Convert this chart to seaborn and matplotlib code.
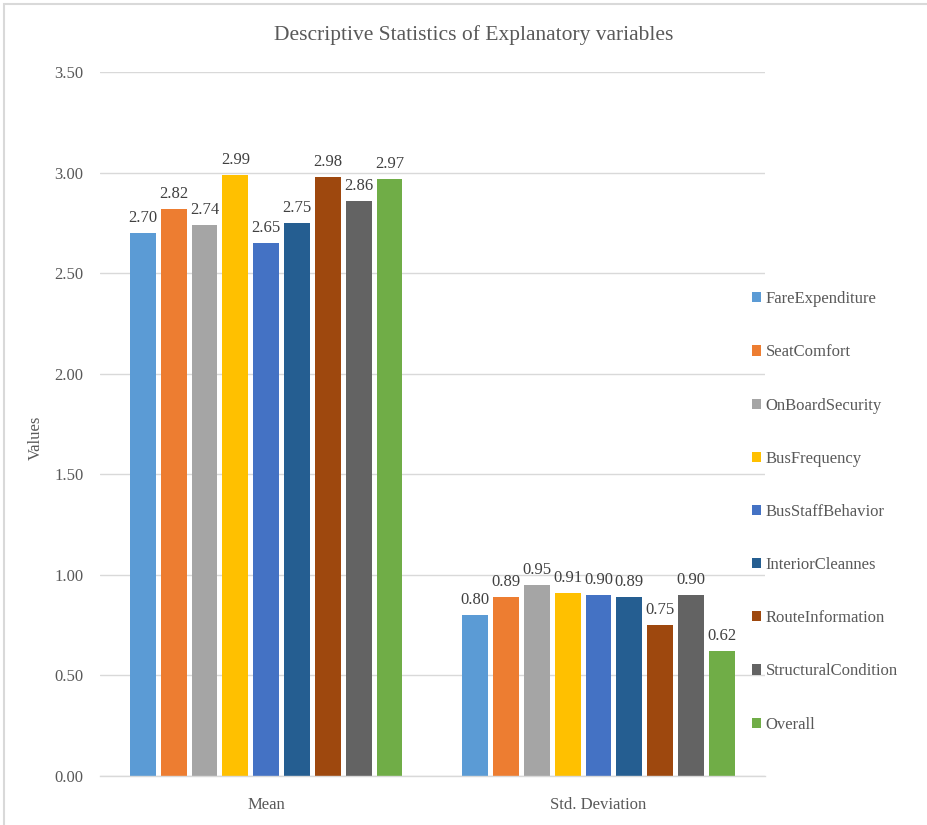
import matplotlib
matplotlib.use("Agg")
import matplotlib.pyplot as plt
from matplotlib.patches import Rectangle
import pandas as pd
import seaborn as sns

# Explanatory variables and their summary statistics
variables = ["FareExpenditure", "SeatComfort", "OnBoardSecurity", "BusFrequency",
             "BusStaffBehavior", "InteriorCleannes", "RouteInformation",
             "StructuralCondition", "Overall"]
stats = ["Mean", "Std. Deviation"]
mean_values = [2.70, 2.82, 2.74, 2.99, 2.65, 2.75, 2.98, 2.86, 2.97]
std_values = [0.80, 0.89, 0.95, 0.91, 0.90, 0.89, 0.75, 0.90, 0.62]
colors = ["#5B9BD5", "#ED7D31", "#A5A5A5", "#FFC000", "#4472C4",
          "#255E91", "#9E480E", "#636363", "#70AD47"]
y_ticks = [0.0, 0.5, 1.0, 1.5, 2.0, 2.5, 3.0, 3.5]

df = pd.DataFrame({
    "Statistic": [stats[0]] * len(variables) + [stats[1]] * len(variables),
    "Variable": variables * 2,
    "Value": mean_values + std_values,
})

sns.set_theme(style="white")
plt.rcParams["font.family"] = ["Liberation Serif", "DejaVu Serif"]
text_color = "#595959"
grid_color = "#D9D9D9"
fs = 12

fig = plt.figure(figsize=(9.28, 8.25), dpi=100)
ax = fig.add_axes([0.1078, 0.0594, 0.7162, 0.8533])

sns.barplot(data=df, x="Statistic", y="Value", hue="Variable", order=stats,
            hue_order=variables, palette=colors, saturation=1, width=0.835,
            gap=0.16, linewidth=0, ax=ax)

for container in ax.containers:
    ax.bar_label(container, fmt="%.2f", padding=5, fontsize=fs, color="#404040")

ax.set_ylim(0, 3.5)
ax.set_yticks(y_ticks)
ax.set_yticklabels([f"{t:.2f}" for t in y_ticks])
ax.yaxis.grid(True, color=grid_color, linewidth=1)
ax.set_axisbelow(True)
for side in ["top", "right", "left"]:
    ax.spines[side].set_visible(False)
ax.spines["bottom"].set_color(grid_color)
ax.spines["bottom"].set_linewidth(1)
ax.tick_params(axis="both", length=0, colors=text_color, labelsize=fs)
ax.tick_params(axis="y", pad=12)
ax.tick_params(axis="x", pad=15)
ax.set_xlabel("")
ax.set_ylabel("Values", fontsize=fs, color=text_color)
ax.yaxis.set_label_coords(-0.084, 0.48)

fig.text(0.51, 1 - 35 / 825, "Descriptive Statistics of Explanatory variables",
         ha="center", va="center", fontsize=15.5, color=text_color)

sns.move_legend(ax, "center left", bbox_to_anchor=(0.81, 0.3795),
                bbox_transform=fig.transFigure, frameon=False, title=None,
                fontsize=fs, handlelength=0.55, handleheight=0.55,
                handletextpad=0.3, labelspacing=2.23, borderpad=0,
                borderaxespad=0)
for t in ax.get_legend().get_texts():
    t.set_color(text_color)

# Chart-area outline
fig.patches.append(Rectangle((0.004, -0.05), 1.2, 0.995 + 0.05,
                             transform=fig.transFigure, fill=False,
                             edgecolor="#D9D9D9", linewidth=1.5))

fig.savefig("out.png", dpi=100)
